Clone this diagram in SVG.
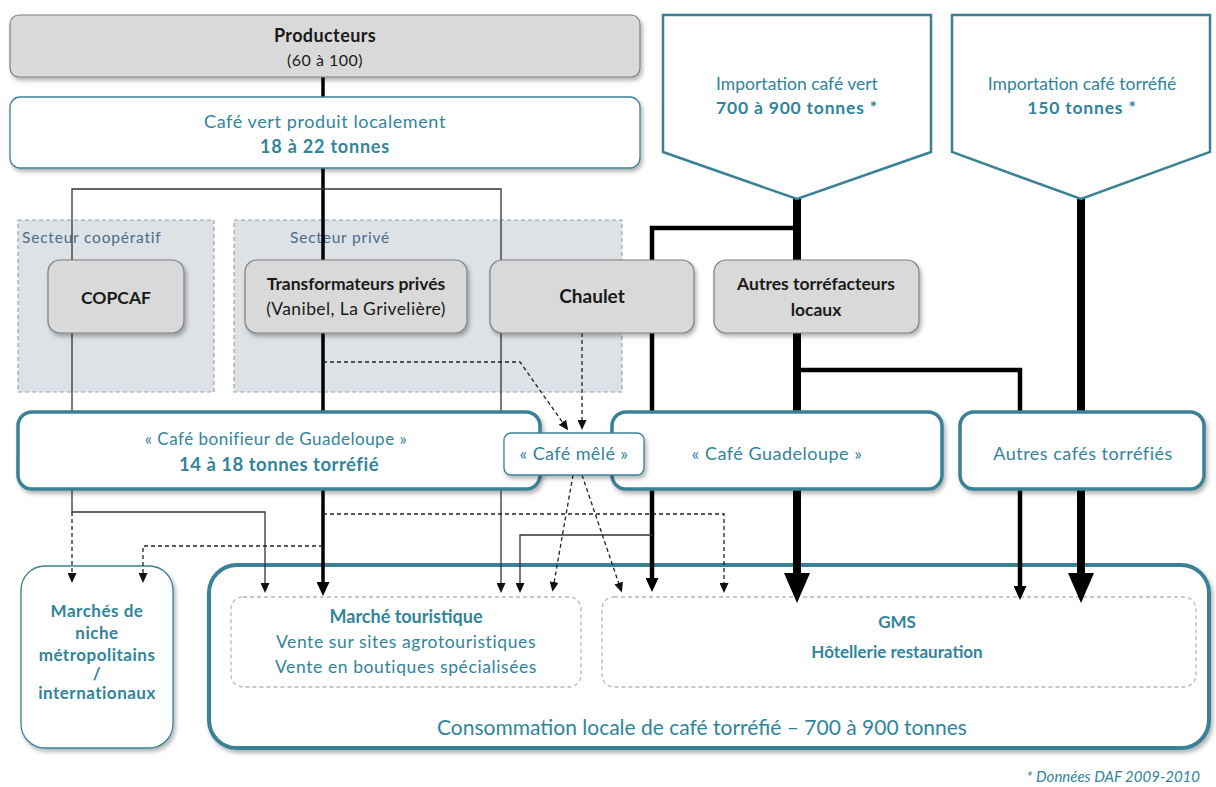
<svg xmlns="http://www.w3.org/2000/svg" width="1216" height="787" viewBox="0 0 1216 787">
<defs>
<style>
text{font-family:Lato,"Liberation Sans",sans-serif;text-anchor:middle}
.dk{fill:#1a1a1a}
.tl{fill:#31849b}
.b{font-weight:bold}
.sp{letter-spacing:0.5px}
.gray{fill:#d9d9d9;stroke:#7f7f7f;stroke-width:1.2}
.sector{fill:#dde2e7;stroke:#9aa3ab;stroke-width:1.2;stroke-dasharray:4 3}
.thin{fill:#fff;stroke:#3a8196;stroke-width:1.3}
.thick{fill:#fff;stroke:#3a8196;stroke-width:3.5}
.pent{fill:#fff;stroke:#3a8196;stroke-width:2.5}
.dbox{fill:none;stroke:#a9bcc4;stroke-width:1.3;stroke-dasharray:4 3}
.c1{fill:none;stroke:#333;stroke-width:1.3}
.cd{fill:none;stroke:#222;stroke-width:1.3;stroke-dasharray:4 3}
.c3{fill:none;stroke:#000;stroke-width:3.5}
.c4{fill:none;stroke:#000;stroke-width:4.5}
.c8{fill:none;stroke:#000;stroke-width:8}
.lbl{fill:#4c6b86;font-size:15.5px;letter-spacing:0.8px;text-anchor:start}
</style>
<filter id="sh" x="-10%" y="-10%" width="130%" height="140%"><feDropShadow dx="2" dy="3" stdDeviation="2" flood-color="#000" flood-opacity="0.3"/></filter>
<marker id="aS" viewBox="0 0 10 9" refX="1" refY="4.5" markerWidth="10" markerHeight="9" markerUnits="userSpaceOnUse" orient="auto"><path d="M0,0 L10,4.5 L0,9 z" fill="#111"/></marker>
<marker id="aM" viewBox="0 0 14 13" refX="1" refY="6.5" markerWidth="14" markerHeight="13" markerUnits="userSpaceOnUse" orient="auto"><path d="M0,0 L14,6.5 L0,13 z" fill="#000"/></marker>
<marker id="aB" viewBox="0 0 30 26" refX="1" refY="13" markerWidth="30" markerHeight="26" markerUnits="userSpaceOnUse" orient="auto"><path d="M0,0 L30,13 L0,26 z" fill="#000"/></marker>
</defs>
<rect width="1216" height="787" fill="#fff"/>

<g id="secteur-cooperatif">
<rect class="sector" x="18" y="220" width="196" height="172"/>
<text class="lbl" x="22" y="243">Secteur coopératif</text>
</g>
<g id="secteur-prive">
<rect class="sector" x="234" y="220" width="388" height="172"/>
<text class="lbl" x="290" y="243">Secteur privé</text>
</g>

<g id="marches-niche">
<rect class="thin" x="21" y="566" width="152" height="182" rx="24" filter="url(#sh)"/>
<text class="tl b sp" x="97" y="617" font-size="17">Marchés de</text>
<text class="tl b sp" x="97" y="639" font-size="17">niche</text>
<text class="tl b sp" x="97" y="661" font-size="17">métropolitains</text>
<text class="tl b sp" x="97" y="680" font-size="17">/</text>
<text class="tl b sp" x="97" y="699" font-size="17">internationaux</text>
</g>
<g id="consommation">
<rect x="209" y="565" width="1000" height="183" rx="28" style="fill:#fff;stroke:#3a8196;stroke-width:4" filter="url(#sh)"/>
<text class="tl" x="702" y="735" font-size="21">Consommation locale de café torréfié – 700 à 900 tonnes</text>
</g>
<g id="marche-touristique">
<rect class="dbox" x="231" y="597" width="350" height="90" rx="12"/>
<text class="tl b" x="406" y="623" font-size="18">Marché touristique</text>
<text class="tl" x="406" y="648" font-size="17.5" letter-spacing="0.6">Vente sur sites agrotouristiques</text>
<text class="tl" x="406" y="673" font-size="17.5" letter-spacing="0.6">Vente en boutiques spécialisées</text>
</g>
<g id="gms">
<rect class="dbox" x="602" y="597" width="594" height="90" rx="12"/>
<text class="tl b" x="897" y="628" font-size="17">GMS</text>
<text class="tl b" x="897" y="658" font-size="17">Hôtellerie restauration</text>
</g>

<g id="connectors">
<path class="c3" d="M323,77 V97"/>
<path class="c3" d="M323,168 V583" marker-end="url(#aM)"/>
<path class="c1" d="M72,260 V189 H501 V584" marker-end="url(#aS)"/>
<path class="c1" d="M72,333 V512 H265 V584" marker-end="url(#aS)"/>
<path class="cd" d="M72,512 V574" marker-end="url(#aS)"/>
<path class="cd" d="M323,546 H143 V574" marker-end="url(#aS)"/>
<path class="cd" d="M323,514 H724 V584" marker-end="url(#aS)"/>
<path class="cd" d="M323,362 H520 L563,423" marker-end="url(#aS)"/>
<path class="cd" d="M582,333 V421" marker-end="url(#aS)"/>
<path class="cd" d="M573,475 L554,583" marker-end="url(#aS)"/>
<path class="cd" d="M582,475 L619,584" marker-end="url(#aS)"/>
<path class="c4" d="M797,228 H652 V579" marker-end="url(#aM)"/>
<path class="c1" d="M652,535 H520 V584" marker-end="url(#aS)"/>
<path class="c8" d="M797,199 V574" marker-end="url(#aB)"/>
<path class="c4" d="M797,370 H1020 V587" marker-end="url(#aM)"/>
<path class="c8" d="M1081,199 V574" marker-end="url(#aB)"/>
</g>

<g id="producteurs">
<rect class="gray" x="10" y="15" width="630" height="62" rx="9" filter="url(#sh)"/>
<text class="dk b" x="325" y="42" font-size="18" letter-spacing="0.4">Producteurs</text>
<text class="dk" x="325" y="66" font-size="16" letter-spacing="0.5">(60 à 100)</text>
</g>
<g id="cafe-vert">
<rect class="thin" x="10" y="97" width="630" height="71" rx="10" filter="url(#sh)"/>
<text class="tl" x="325" y="128" font-size="18" letter-spacing="0.6">Café vert produit localement</text>
<text class="tl b" x="325" y="153" font-size="18" letter-spacing="0.8">18 à 22 tonnes</text>
</g>
<g id="import-vert">
<polygon class="pent" points="663,15 931,15 931,152 797,199 663,152"/>
<text class="tl" x="797" y="90" font-size="17.5">Importation café vert</text>
<text class="tl b" x="797" y="114" font-size="17.5" letter-spacing="0.8">700 à 900 tonnes *</text>
</g>
<g id="import-torrefie">
<polygon class="pent" points="952,15 1210,15 1210,152 1081,199 952,152"/>
<text class="tl" x="1082" y="90" font-size="17.5">Importation café torréfié</text>
<text class="tl b" x="1082" y="114" font-size="17.5" letter-spacing="0.8">150 tonnes *</text>
</g>

<g id="copcaf">
<rect class="gray" x="48" y="260" width="136" height="73" rx="12" filter="url(#sh)"/>
<text class="dk b" x="116" y="304" font-size="17.5">COPCAF</text>
</g>
<g id="transformateurs">
<rect class="gray" x="245" y="260" width="222" height="73" rx="12" filter="url(#sh)"/>
<text class="dk b" x="356" y="290" font-size="17.5">Transformateurs privés</text>
<text class="dk" x="356" y="315" font-size="17.5" letter-spacing="0.4">(Vanibel, La Grivelière)</text>
</g>
<g id="chaulet">
<rect class="gray" x="490" y="260" width="204" height="73" rx="12" filter="url(#sh)"/>
<text class="dk b" x="592" y="303" font-size="19">Chaulet</text>
</g>
<g id="autres-torrefacteurs">
<rect class="gray" x="714" y="260" width="205" height="73" rx="12" filter="url(#sh)"/>
<text class="dk b" x="816" y="290" font-size="17.5">Autres torréfacteurs</text>
<text class="dk b" x="816" y="316" font-size="17.5">locaux</text>
</g>

<g id="cafe-bonifieur">
<rect class="thick" x="18" y="412" width="522" height="77" rx="14" filter="url(#sh)"/>
<text class="tl" x="276" y="445" font-size="17" letter-spacing="0.5">« Café bonifieur de Guadeloupe »</text>
<text class="tl b" x="279" y="471" font-size="18.5" letter-spacing="0.5">14 à 18 tonnes torréfié</text>
</g>
<g id="cafe-guadeloupe">
<rect class="thick" x="612" y="412" width="330" height="77" rx="14" filter="url(#sh)"/>
<text class="tl" x="777" y="460" font-size="18" letter-spacing="0.5">« Café Guadeloupe »</text>
</g>
<g id="autres-cafes">
<rect class="thick" x="960" y="412" width="244" height="77" rx="14" filter="url(#sh)"/>
<text class="tl" x="1083" y="460" font-size="18" letter-spacing="0.5">Autres cafés torréfiés</text>
</g>
<g id="cafe-mele">
<rect class="thin" x="504" y="433" width="140" height="42" rx="7" stroke-width="1.6" filter="url(#sh)"/>
<text class="tl" x="574" y="460" font-size="18" letter-spacing="0.4">« Café mêlé »</text>
</g>

<text class="tl" x="1200" y="782" font-size="15" font-style="italic" style="text-anchor:end">* Données DAF 2009-2010</text>
</svg>
